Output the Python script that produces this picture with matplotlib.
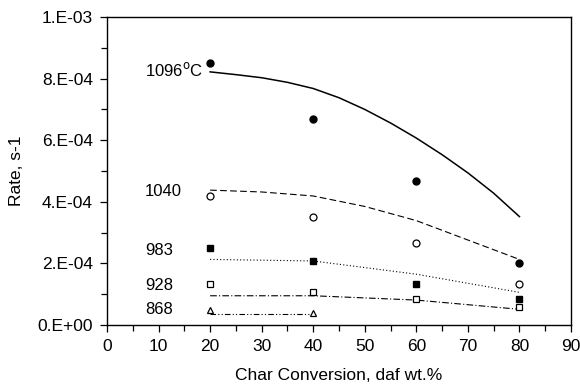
import matplotlib
matplotlib.use("Agg")
import matplotlib.pyplot as plt
from matplotlib.ticker import MultipleLocator, FuncFormatter

plt.rcParams['font.family'] = ['Liberation Sans', 'DejaVu Sans']

x_pts = [20, 40, 60, 80]
r1096 = [0.851e-3, 0.669e-3, 0.468e-3, 0.201e-3]
r1040 = [0.419e-3, 0.352e-3, 0.267e-3, 0.133e-3]
r983 = [0.250e-3, 0.208e-3, 0.133e-3, 0.084e-3]
r928 = [0.133e-3, 0.108e-3, 0.084e-3, 0.058e-3]
x868 = [20, 40]
r868 = [0.049e-3, 0.039e-3]

x_fit1096 = [20, 25, 30, 35, 40, 45, 50, 55, 60, 65, 70, 75, 80]
f1096 = [0.822e-3, 0.813e-3, 0.803e-3, 0.788e-3, 0.768e-3, 0.738e-3, 0.700e-3,
         0.656e-3, 0.607e-3, 0.553e-3, 0.494e-3, 0.428e-3, 0.352e-3]
x_fit1040 = [20, 30, 40, 50, 60, 70, 80]
f1040 = [0.438e-3, 0.432e-3, 0.419e-3, 0.385e-3, 0.339e-3, 0.276e-3, 0.213e-3]
x_fit4 = [20, 40, 60, 80]
f983 = [0.213e-3, 0.208e-3, 0.165e-3, 0.106e-3]
f928 = [0.095e-3, 0.095e-3, 0.081e-3, 0.051e-3]
f868 = [0.036e-3, 0.036e-3]

labels = ["1096$^{\\mathrm{o}}$C", "1040", "983", "928", "868"]
label_y = [0.828e-3, 0.432e-3, 0.241e-3, 0.127e-3, 0.049e-3]

fig = plt.figure(figsize=(5.8, 3.84), dpi=100)
ax = fig.add_axes([0.1845, 0.1536, 0.80, 0.802])

ax.plot(x_fit1096, f1096, color='black', lw=1.1, linestyle='-')
ax.plot(x_fit1040, f1040, color='black', lw=0.8, linestyle=(0, (6, 3)))
ax.plot(x_fit4, f983, color='black', lw=0.8, linestyle=(0, (1, 2)))
ax.plot(x_fit4, f928, color='black', lw=0.8, linestyle=(0, (6, 2, 1, 2)))
ax.plot(x868, f868, color='black', lw=0.8, linestyle=(0, (5, 2, 1, 2, 1, 2)))

ms = 5
ax.plot(x_pts, r1096, 'o', color='black', ms=ms, ls='none')
ax.plot(x_pts, r1040, 'o', mfc='white', mec='black', mew=0.9, ms=ms, ls='none')
ax.plot(x_pts, r983, 's', color='black', ms=ms, ls='none')
ax.plot(x_pts, r928, 's', mfc='white', mec='black', mew=0.9, ms=ms, ls='none')
ax.plot(x868, r868, '^', mfc='white', mec='black', mew=0.9, ms=ms, ls='none')

for lab, ly in zip(labels, label_y):
    ax.text(7.4, ly, lab, fontsize=12, ha='left', va='center')

ax.set_xlim(0, 90)
ax.set_ylim(0, 1e-3)
ax.xaxis.set_major_locator(MultipleLocator(10))
ax.xaxis.set_minor_locator(MultipleLocator(5))
ax.yaxis.set_major_locator(MultipleLocator(2e-4))
ax.yaxis.set_minor_locator(MultipleLocator(1e-4))

def sci(v, pos):
    if abs(v) < 1e-12:
        return "0.E+00"
    s = "%.0E" % v
    m, e = s.split("E")
    return "%s.E%s%02d" % (m, e[0], abs(int(e)))

ax.yaxis.set_major_formatter(FuncFormatter(sci))
ax.tick_params(which='both', direction='out', top=False, right=False, labelsize=12.5)
ax.tick_params(which='major', length=5, width=0.9, pad=5)
ax.tick_params(which='minor', length=4, width=0.9)
for sp in ax.spines.values():
    sp.set_linewidth(1.0)

ax.set_xlabel("Char Conversion, daf wt.%", fontsize=12.5, labelpad=10)
ax.set_ylabel("Rate, s-1", fontsize=12.5, labelpad=10)

fig.savefig("out.png", dpi=100)
